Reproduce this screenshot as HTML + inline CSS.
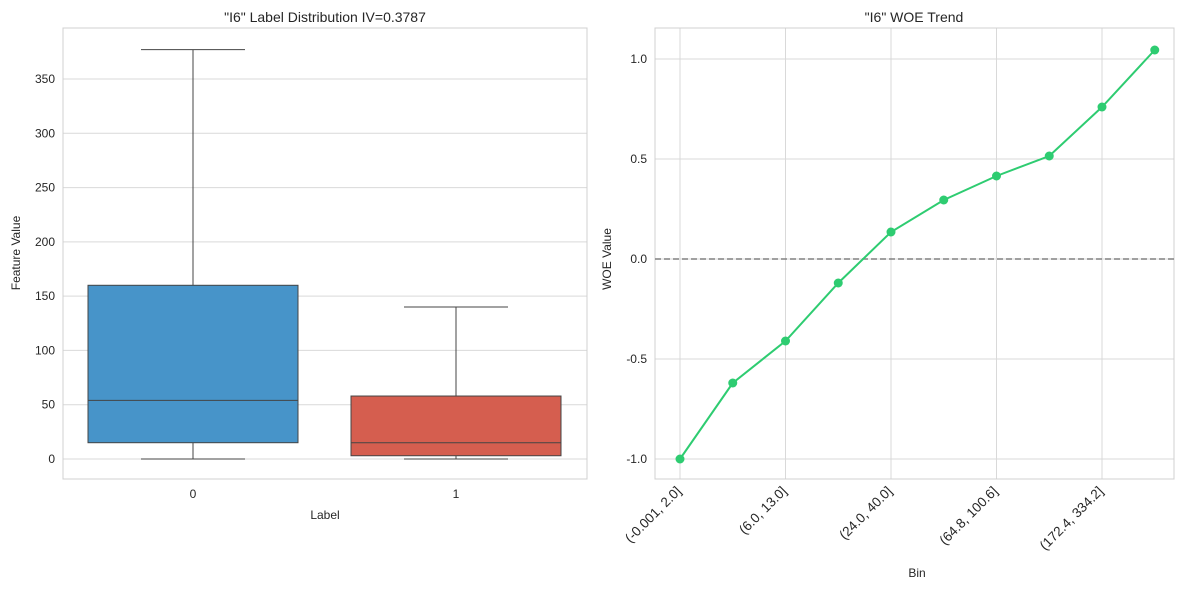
<!DOCTYPE html>
<html><head><meta charset="utf-8"><style>
body{margin:0;background:#fff}
svg text{font-family:"Liberation Sans","DejaVu Sans",sans-serif;fill:#262626}
</style></head><body>
<svg id="c" width="1189" height="589" xmlns="http://www.w3.org/2000/svg"></svg>
<script>
const boxLabels=["0","1"];
const boxMin=[0,0];
const boxQ1=[15,3];
const boxMed=[54,15];
const boxQ3=[160,58];
const boxMax=[377,140];
const boxColors=["#4794c9","#d55e4f"];
const leftTicks=[0,50,100,150,200,250,300,350];
const bins=["(-0.001, 2.0]","(2.0, 6.0]","(6.0, 13.0]","(13.0, 24.0]","(24.0, 40.0]","(40.0, 64.8]","(64.8, 100.6]","(100.6, 172.4]","(172.4, 334.2]","(334.2, inf]"];
const woe=[-1.0,-0.62,-0.41,-0.12,0.135,0.295,0.415,0.515,0.76,1.045];
const rightTicks=[-1.0,-0.5,0.0,0.5,1.0];

const svg=document.getElementById('c');const NS="http://www.w3.org/2000/svg";
function el(t,a,p){const e=document.createElementNS(NS,t);for(const k in a)e.setAttribute(k,a[k]);(p||svg).appendChild(e);return e;}
const L={x0:63,x1:587,y0:28,y1:479};
const ly=v=>459-v*(380/350);
const lx=i=>193+i*263;
leftTicks.forEach(t=>{const g=el('line',{x1:L.x0,x2:L.x1,y1:ly(t),y2:ly(t),stroke:'#d9d9d9','stroke-width':1});

const tx=el('text',{x:L.x0-8,y:ly(t)+4,'text-anchor':'end','font-size':12});tx.textContent=t;
});
const lf=el('rect',{x:L.x0,y:L.y0,width:L.x1-L.x0,height:L.y1-L.y0,fill:'none',stroke:'#d0d0d0'});

boxLabels.forEach((b,i)=>{const cx=lx(i),w=210;
const g=el('g',{});
el('line',{x1:cx,x2:cx,y1:ly(boxMax[i]),y2:ly(boxQ3[i]),stroke:'#444'},g);
el('line',{x1:cx,x2:cx,y1:ly(boxQ1[i]),y2:ly(boxMin[i]),stroke:'#444'},g);
el('line',{x1:cx-52,x2:cx+52,y1:ly(boxMax[i]),y2:ly(boxMax[i]),stroke:'#444'},g);
el('line',{x1:cx-52,x2:cx+52,y1:ly(boxMin[i]),y2:ly(boxMin[i]),stroke:'#444'},g);
el('rect',{x:cx-w/2,y:ly(boxQ3[i]),width:w,height:ly(boxQ1[i])-ly(boxQ3[i]),fill:boxColors[i],stroke:'#444'},g);
el('line',{x1:cx-w/2,x2:cx+w/2,y1:ly(boxMed[i]),y2:ly(boxMed[i]),stroke:'#444'},g);
const t=el('text',{x:cx,y:498,'text-anchor':'middle','font-size':12});t.textContent=b;
});
let t;
t=el('text',{x:325,y:22,'text-anchor':'middle','font-size':14});t.textContent='"I6" Label Distribution IV=0.3787';
t=el('text',{x:325,y:519,'text-anchor':'middle','font-size':12});t.textContent='Label';
t=el('text',{x:20,y:253,'text-anchor':'middle','font-size':12,transform:'rotate(-90 20 253)'});t.textContent='Feature Value';
const R={x0:655,x1:1174,y0:28,y1:479};
const ry=v=>259-v*200;
const rx=i=>680+i*52.75;
rightTicks.forEach(v=>{const g=el('line',{x1:R.x0,x2:R.x1,y1:ry(v),y2:ry(v),stroke:'#d9d9d9'});

const tx=el('text',{x:R.x0-8,y:ry(v)+4,'text-anchor':'end','font-size':12});tx.textContent=v.toFixed(1);
});
bins.forEach((b,i)=>{if(i%2)return;const x=rx(i);
const g=el('line',{x1:x,x2:x,y1:R.y0,y2:R.y1,stroke:'#d9d9d9'});
const tx=el('text',{x:x+2,y:492,'text-anchor':'end','font-size':13.5,transform:`rotate(-45 ${x+2} 492)`});tx.textContent=b;
});
const rf=el('rect',{x:R.x0,y:R.y0,width:R.x1-R.x0,height:R.y1-R.y0,fill:'none',stroke:'#d0d0d0'});

const zl=el('line',{x1:R.x0,x2:R.x1,y1:ry(0),y2:ry(0),stroke:'#808080','stroke-width':1.5,'stroke-dasharray':'6,3'});

const pl=el('polyline',{points:woe.map((v,i)=>rx(i)+','+ry(v)).join(' '),fill:'none',stroke:'#2ecc71','stroke-width':2});

woe.forEach((v,i)=>{const c=el('circle',{cx:rx(i),cy:ry(v),r:4.5,fill:'#2ecc71'});
});
t=el('text',{x:914,y:22,'text-anchor':'middle','font-size':14});t.textContent='"I6" WOE Trend';
t=el('text',{x:917,y:577,'text-anchor':'middle','font-size':12});t.textContent='Bin';
t=el('text',{x:611,y:259,'text-anchor':'middle','font-size':12,transform:'rotate(-90 611 259)'});t.textContent='WOE Value';
</script>
</body></html>
